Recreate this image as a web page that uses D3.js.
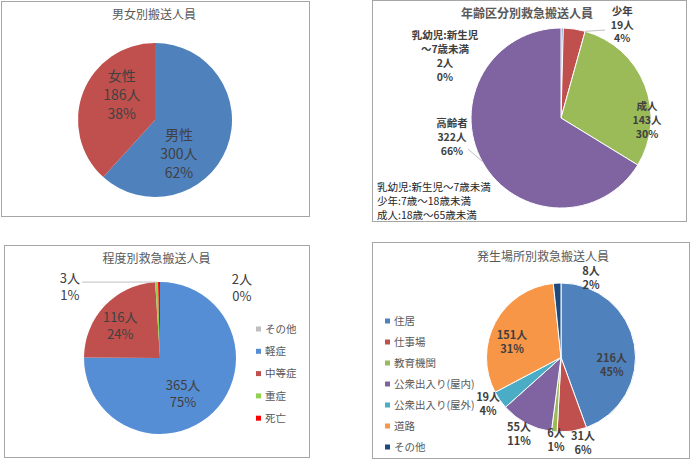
<!DOCTYPE html>
<html><head><meta charset="utf-8">
<script src="https://cdn.jsdelivr.net/npm/d3@7"></script>
<style>body{margin:0;background:#fff}</style>
</head><body>
<script>
// ---------- DATA ----------
const genderCats = ["男性", "女性"];
const genderVals = [300, 186];
const genderPct  = ["62%", "38%"];

const ageCats = ["乳幼児:新生児\n～7歳未満", "少年", "成人", "高齢者"];
const ageVals = [2, 19, 143, 322];
const agePct  = ["0%", "4%", "30%", "66%"];
const ageNotes = ["乳幼児:新生児～7歳未満", "少年:7歳～18歳未満", "成人:18歳～65歳未満"];

const sevCats = ["その他", "軽症", "中等症", "重症", "死亡"];
const sevVals = [0, 365, 116, 3, 2];
const sevPct  = ["0%", "75%", "24%", "1%", "0%"];

const placeCats = ["住居", "仕事場", "教育機関", "公衆出入り(屋内)", "公衆出入り(屋外)", "道路", "その他"];
const placeVals = [216, 31, 6, 55, 19, 151, 8];
const placePct  = ["45%", "6%", "1%", "11%", "4%", "31%", "2%"];

const titles = ["男女別搬送人員", "年齢区分別救急搬送人員", "程度別救急搬送人員", "発生場所別救急搬送人員"];

// ---------- STYLE / LAYOUT ----------
const font = '"Noto Sans CJK JP","Noto Sans",sans-serif';
const svg = d3.select("body").append("svg").attr("width", 690).attr("height", 459);

const panels = [
  [1.5, 1.5, 308, 215],
  [372.5, 0.5, 314, 221],
  [4.5, 245.5, 305, 212],
  [372.5, 242.5, 317, 216]
];
svg.selectAll("rect.panel").data(panels).join("rect").attr("class", "panel")
  .attr("x", d => d[0]).attr("y", d => d[1]).attr("width", d => d[2]).attr("height", d => d[3])
  .attr("fill", "#fff").attr("stroke", "#a6a6a6").attr("stroke-width", 1);

const titlePos = [[154, 19, "normal"], [527, 17.5, "bold"], [156.5, 263, "normal"], [543, 261, "normal"]];
titles.forEach((t, i) => {
  svg.append("text").attr("x", titlePos[i][0]).attr("y", titlePos[i][1])
    .attr("text-anchor", "middle").attr("font-family", font).attr("font-size", 12)
    .attr("font-weight", titlePos[i][2]).attr("fill", "#595959").text(t);
});

function polar(aDeg, rad) {
  const a = aDeg * Math.PI / 180;
  return [Math.sin(a) * rad, -Math.cos(a) * rad];
}

function drawPie(cfg) {
  const g = svg.append("g").attr("transform", `translate(${cfg.cx},${cfg.cy})`);
  const data = cfg.vals.map((v, i) => ({ v, i }));
  const arcs = d3.pie().sort(null).value(d => d.v)(data);
  const arc = d3.arc().innerRadius(0).outerRadius(cfg.r);
  g.selectAll("path.slice").data(arcs.filter(d => d.data.v > 0)).join("path").attr("class", "slice")
    .attr("d", arc).attr("fill", d => cfg.colors[d.data.i])
    .attr("stroke", cfg.stroke ? "#fff" : "none").attr("stroke-width", cfg.stroke || 0);

  // leaders
  (cfg.leaders || []).forEach(L => {
    const a = arcs[L.i];
    const mid = (a.startAngle + a.endAngle) / 2 * 180 / Math.PI;
    const p0 = polar(L.startAngle != null ? L.startAngle : mid, cfg.r);
    const p1 = polar(L.endAngle, L.endF * cfg.r);
    g.append("line").attr("x1", p0[0]).attr("y1", p0[1]).attr("x2", p1[0]).attr("y2", p1[1])
      .attr("stroke", "#bfbfbf").attr("stroke-width", 1);
  });

  // labels
  arcs.forEach((a, i) => {
    const lay = cfg.layout[i];
    if (!lay) return;
    const p = polar(lay[0], lay[1] * cfg.r);
    const lines = cfg.labelLines(i);
    const n = lines.length, s = cfg.lineH;
    const t = g.append("text").attr("text-anchor", "middle").attr("font-family", font)
      .attr("font-size", cfg.fontSize).attr("font-weight", cfg.bold ? "bold" : "normal").attr("fill", "#404040");
    lines.forEach((ln, k) => {
      t.append("tspan").attr("x", p[0])
        .attr("y", p[1] - (n - 1) * s / 2 + k * s + cfg.fontSize * 0.36).text(ln);
    });
  });
  return arcs;
}

// Chart 1: gender
drawPie({
  cx: 155, cy: 120, r: 77, vals: genderVals,
  colors: ["#4f81bd", "#c0504d"],
  layout: [[144.8, 0.54], [307, 0.54]],
  labelLines: i => [genderCats[i], genderVals[i] + "人", genderPct[i]],
  fontSize: 14, lineH: 19, bold: false
});

// Chart 2: age
drawPie({
  cx: 561, cy: 118, r: 90, vals: ageVals, stroke: 1,
  colors: ["#4f81bd", "#c0504d", "#9bbb59", "#8064a2"],
  layout: [[298, 1.46], [33.3, 1.24], [91.3, 0.956], [260.1, 1.23]],
  labelLines: i => [...ageCats[i].split("\n"), ageVals[i] + "人", agePct[i]],
  fontSize: 10.5, lineH: 13.8, bold: true,
  leaders: [{ i: 1, startAngle: 15.6, endAngle: 26.6, endF: 1.093 },
            { i: 3, startAngle: 241.4, endAngle: 251.6, endF: 1.09 }]
});
svg.append("text").attr("font-family", font).attr("font-size", 10.5).attr("fill", "#262626")
  .selectAll("tspan").data(ageNotes).join("tspan")
  .attr("x", 377).attr("y", (d, i) => 191 + i * 14).text(d => d);

// Chart 3: severity
const sevColors = ["#bfbfbf", "#558ed5", "#c0504d", "#92d050", "#ff0000"];
drawPie({
  cx: 160, cy: 358, r: 76, vals: sevVals,
  colors: sevColors,
  layout: [null, [147, 0.557], [308.7, 0.67], [308.3, 1.51], [49.3, 1.42]],
  labelLines: i => [sevVals[i] + "人", sevPct[i]],
  fontSize: 13, lineH: 17, bold: false,
  leaders: [{ i: 3, endAngle: 314.3, endF: 1.43 }]
});
const lg3 = svg.append("g");
sevCats.forEach((c, i) => {
  const y = 329 + i * 22.3;
  lg3.append("rect").attr("x", 256).attr("y", y - 2.5).attr("width", 5).attr("height", 5).attr("fill", sevColors[i]);
  lg3.append("text").attr("x", 265).attr("y", y + 3.8).attr("font-family", font).attr("font-size", 10.5)
    .attr("fill", "#595959").text(c);
});

// Chart 4: place
const placeColors = ["#4f81bd", "#c0504d", "#9bbb59", "#8064a2", "#4bacc6", "#f79646", "#1f497d"];
drawPie({
  cx: 561, cy: 357.5, r: 74.5, vals: placeVals, stroke: 1,
  colors: placeColors,
  layout: [[98.4, 0.69], [165.6, 1.185], [183.5, 1.11], [208.8, 1.17], [237.5, 1.16], [287.6, 0.69], [20.7, 1.14]],
  labelLines: i => [placeVals[i] + "人", placePct[i]],
  fontSize: 11, lineH: 13.5, bold: true
});
const lg4 = svg.append("g");
placeCats.forEach((c, i) => {
  const y = 321 + i * 21;
  lg4.append("rect").attr("x", 385).attr("y", y - 2.5).attr("width", 5).attr("height", 5).attr("fill", placeColors[i]);
  lg4.append("text").attr("x", 394).attr("y", y + 3.8).attr("font-family", font).attr("font-size", 10.5)
    .attr("fill", "#595959").text(c);
});
</script>
</body></html>
